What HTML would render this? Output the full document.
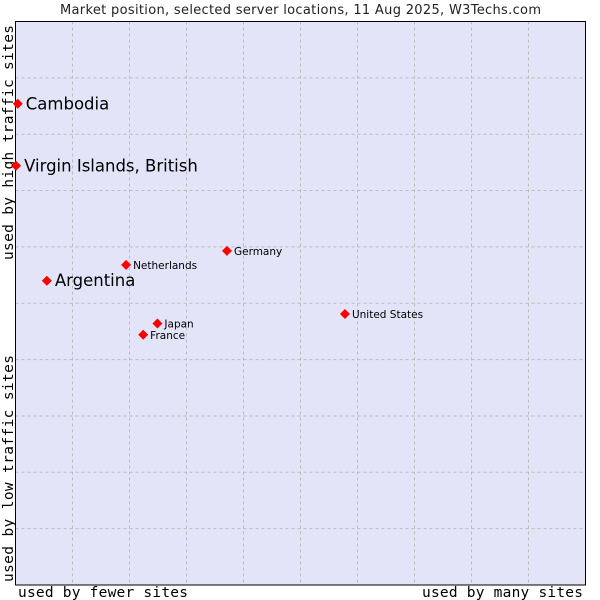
<!DOCTYPE html>
<html><head><meta charset="utf-8"><style>
html,body{margin:0;padding:0;background:#fff;}
svg{display:block;font-family:"DejaVu Sans","Liberation Sans",sans-serif;}
</style></head><body>
<svg id="chart" width="600" height="600" viewBox="0 0 600 600">
<text x="60" y="14" textLength="481" font-size="13" fill="#222">Market position, selected server locations, 11 Aug 2025, W3Techs.com</text>
<rect x="15.5" y="21.5" width="570" height="563.5" fill="#e3e4f8" stroke="none"/>
<g id="grid"></g>
<rect x="15.5" y="21.5" width="570" height="563.5" fill="none" stroke="#000" stroke-width="1"/>
<text x="18" y="597" textLength="170" font-family="DejaVu Sans Mono, Liberation Mono, monospace" font-size="14.5" fill="#000">used by fewer sites</text>
<text x="422" y="597" textLength="161" font-family="DejaVu Sans Mono, Liberation Mono, monospace" font-size="14.5" fill="#000">used by many sites</text>
<text transform="translate(13,582) rotate(-90)" textLength="227" font-family="DejaVu Sans Mono, Liberation Mono, monospace" font-size="14.5" fill="#000">used by low traffic sites</text>
<text transform="translate(13,260) rotate(-90)" textLength="235" font-family="DejaVu Sans Mono, Liberation Mono, monospace" font-size="14.5" fill="#000">used by high traffic sites</text>
<g id="points"></g>
</svg>
<script>
const names = ["Cambodia","Virgin Islands, British","Argentina","Netherlands","Germany","Japan","France","United States"];
const xVals = [0.4,0.1,5.5,19.4,37.1,24.9,22.4,57.8];
const yVals = [85.4,74.4,54.0,56.8,59.3,46.4,44.4,48.1];
const bigLabel = [true,true,true,false,false,false,false,false];
const gridTicks = [1,2,3,4,5,6,7,8,9];

const X0=15.5,X1=585.5,Y0=585,Y1=21.5;
const sx=v=>X0+v/100*(X1-X0);
const sy=v=>Y0-v/100*(Y0-Y1);
const NS="http://www.w3.org/2000/svg";
const grid=document.getElementById('grid');
gridTicks.forEach(t=>{
  const v=document.createElementNS(NS,'line');
  v.setAttribute('x1',sx(t*10));v.setAttribute('x2',sx(t*10));
  v.setAttribute('y1',Y1);v.setAttribute('y2',Y0);
  v.setAttribute('stroke','#bbb');v.setAttribute('stroke-dasharray','3,3');
  
  
  grid.appendChild(v);
  const h=document.createElementNS(NS,'line');
  h.setAttribute('y1',sy(t*10));h.setAttribute('y2',sy(t*10));
  h.setAttribute('x1',X0);h.setAttribute('x2',X1);
  h.setAttribute('stroke','#bbb');h.setAttribute('stroke-dasharray','3,3');
  
  
  grid.appendChild(h);
});
const pts=document.getElementById('points');
names.forEach((n,i)=>{
  const x=sx(xVals[i]),y=sy(yVals[i]);
  const d=document.createElementNS(NS,'polygon');
  d.setAttribute('points',`${x},${y-5} ${x+5},${y} ${x},${y+5} ${x-5},${y}`);
  d.setAttribute('fill','#f00');
  
  
  pts.appendChild(d);
  const t=document.createElementNS(NS,'text');
  t.setAttribute('x',x+(bigLabel[i]?8:7));
  t.setAttribute('y',y+(bigLabel[i]?5.5:4));
  t.setAttribute('font-size',bigLabel[i]?'16.5':'10.5');
  t.setAttribute('fill','#000');
  t.textContent=n;
  
  
  pts.appendChild(t);
});
</script>
</body></html>
